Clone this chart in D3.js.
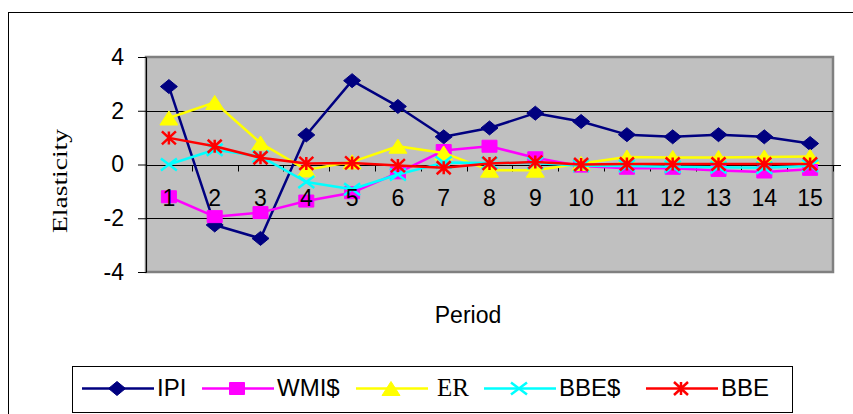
<!DOCTYPE html>
<html>
<head>
<meta charset="utf-8">
<script src="https://cdn.jsdelivr.net/npm/d3@7"></script>
<style>
  html, body { margin: 0; padding: 0; background: #fff; }
  svg { display: block; }
</style>
</head>
<body>
<svg id="chart" width="853" height="414"></svg>
<script>
// Periods on the x axis
const periods = [1, 2, 3, 4, 5, 6, 7, 8, 9, 10, 11, 12, 13, 14, 15];

// Impulse-response elasticities per series
const ipi  = [2.90, -2.25, -2.75, 1.10, 3.12, 2.16, 1.03, 1.36, 1.91, 1.60, 1.11, 1.03, 1.11, 1.03, 0.78];
const wmi  = [-1.20, -1.94, -1.79, -1.36, -1.05, -0.31, 0.52, 0.68, 0.25, -0.06, -0.14, -0.14, -0.22, -0.28, -0.18];
const er   = [1.73, 2.31, 0.80, -0.20, 0.10, 0.68, 0.43, -0.21, -0.21, 0.04, 0.28, 0.26, 0.26, 0.28, 0.30];
const bbeD = [0.00, 0.55, 0.30, -0.65, -0.92, -0.37, 0.07, 0.06, 0.06, -0.05, -0.06, -0.08, -0.10, -0.12, -0.05];
const bbe  = [0.99, 0.68, 0.25, 0.04, 0.06, -0.04, -0.12, 0.04, 0.09, 0.00, 0.02, 0.02, 0.02, 0.02, 0.02];

const yTicks = [-4, -2, 0, 2, 4];
const seriesNames = ["IPI", "WMI$", "ER", "BBE$", "BBE"];

const series = [
  { name: seriesNames[0], values: ipi,  color: "#000080", marker: "diamond" },
  { name: seriesNames[1], values: wmi,  color: "#FF00FF", marker: "square" },
  { name: seriesNames[2], values: er,   color: "#FFFF00", marker: "triangle", serif: true },
  { name: seriesNames[3], values: bbeD, color: "#00FFFF", marker: "cross" },
  { name: seriesNames[4], values: bbe,  color: "#FF0000", marker: "star" }
];

const svg = d3.select("#chart");
const plot = { left: 146, right: 833, top: 57, bottom: 272 };

const x = d3.scaleBand().domain(periods).range([plot.left, plot.right]);
const y = d3.scaleLinear().domain([-4, 4]).range([plot.bottom, plot.top]);

// Outer chart frame
svg.append("rect")
  .attr("x", 8.5).attr("y", 12.5).attr("width", 900).attr("height", 500)
  .attr("fill", "#fff").attr("stroke", "#000").attr("stroke-width", 1);

// Plot background
svg.append("rect")
  .attr("x", plot.left).attr("y", plot.top)
  .attr("width", plot.right - plot.left).attr("height", plot.bottom - plot.top)
  .attr("fill", "#C0C0C0").attr("stroke", "#808080").attr("stroke-width", 2.5);

// Horizontal gridlines
svg.append("g").selectAll("line").data(yTicks.filter(d => d !== 4 && d !== -4)).join("line")
  .attr("x1", plot.left).attr("x2", plot.right)
  .attr("y1", d => Math.round(y(d)) + 0.5).attr("y2", d => Math.round(y(d)) + 0.5)
  .attr("stroke", "#000").attr("stroke-width", 1);

// Y axis (plain hyphen for negatives)
const yAxis = d3.axisLeft(y).tickValues(yTicks).tickSize(8).tickPadding(14).tickFormat(d => String(d));
const gy = svg.append("g").attr("transform", `translate(${plot.left},0)`).call(yAxis);
gy.select(".domain").attr("stroke", "#000");
gy.selectAll(".tick line").attr("stroke", "#000");
gy.selectAll(".tick text")
  .attr("font-family", "Arial, 'Liberation Sans', sans-serif")
  .attr("font-size", 23).attr("fill", "#000");

// X axis through zero, with ticks between categories
const zeroY = Math.round(y(0)) + 0.5;
svg.append("line")
  .attr("x1", plot.left).attr("x2", plot.right + 8)
  .attr("y1", zeroY).attr("y2", zeroY)
  .attr("stroke", "#000").attr("stroke-width", 1);
const bounds = periods.map(p => x(p)).concat([plot.right]);
svg.append("g").selectAll("line").data(bounds).join("line")
  .attr("x1", d => Math.round(d) + 0.5).attr("x2", d => Math.round(d) + 0.5)
  .attr("y1", zeroY).attr("y2", zeroY + 6)
  .attr("stroke", "#000").attr("stroke-width", 1);

// Marker shapes
function markerPath(type, w, h) {
  const a = w / 2, b = h / 2;
  switch (type) {
    case "diamond": return `M0,${-b}L${a},0L0,${b}L${-a},0Z`;
    case "square": return `M${-a},${-b}H${a}V${b}H${-a}Z`;
    case "triangle": return `M0,${-b}L${a},${b}L${-a},${b}Z`;
    case "cross": return `M${-a},${-b}L${a},${b}M${a},${-b}L${-a},${b}`;
    case "star": return `M${-a},${-b}L${a},${b}M${a},${-b}L${-a},${b}M0,${-b}V${b}`;
  }
}
const markerSize = {
  diamond: [17, 14], square: [15, 12], triangle: [18, 14], cross: [16, 12], star: [14, 13]
};
function drawMarker(g, type, color) {
  const [w, h] = markerSize[type];
  const filled = type === "diamond" || type === "square" || type === "triangle";
  g.append("path")
    .attr("d", markerPath(type, w, h))
    .attr("fill", filled ? color : "none")
    .attr("stroke", color)
    .attr("stroke-width", filled ? 1 : 2.5);
}

const cx = d => x(d) + x.bandwidth() / 2;
const line = d3.line().x((v, i) => cx(periods[i])).y(v => y(v));

const gSeries = svg.append("g");
series.forEach(s => {
  const g = gSeries.append("g");
  g.append("path")
    .attr("d", line(s.values))
    .attr("fill", "none")
    .attr("stroke", s.color)
    .attr("stroke-width", 2.5)
    .attr("stroke-linejoin", "round");
  s.values.forEach((v, i) => {
    const m = g.append("g").attr("transform", `translate(${cx(periods[i])},${y(v)})`);
    drawMarker(m, s.marker, s.color);
  });
});

// Category labels sit above the series
svg.append("g").selectAll("text").data(periods).join("text")
  .attr("x", d => x(d) + x.bandwidth() / 2)
  .attr("y", zeroY + 40)
  .attr("text-anchor", "middle")
  .attr("font-family", "Arial, 'Liberation Sans', sans-serif")
  .attr("font-size", 23).attr("fill", "#000")
  .text(d => d);

// Axis titles
svg.append("text")
  .attr("transform", "translate(67,181) rotate(-90)")
  .attr("text-anchor", "middle")
  .attr("font-family", "'Times New Roman', 'Liberation Serif', serif")
  .attr("font-size", 22)
  .attr("textLength", 104).attr("lengthAdjust", "spacingAndGlyphs")
  .attr("fill", "#000")
  .text("Elasticity");

svg.append("text")
  .attr("x", 468).attr("y", 323)
  .attr("text-anchor", "middle")
  .attr("font-family", "Arial, 'Liberation Sans', sans-serif")
  .attr("font-size", 23).attr("fill", "#000")
  .text("Period");

// Legend
svg.append("rect")
  .attr("x", 72.5).attr("y", 366.5).attr("width", 720).attr("height", 46)
  .attr("fill", "#fff").attr("stroke", "#000").attr("stroke-width", 1);

const legendX = [82, 202, 356, 484, 646];
const legendY = 388.5;
series.forEach((s, i) => {
  const g = svg.append("g").attr("transform", `translate(${legendX[i]},0)`);
  g.append("line")
    .attr("x1", 0).attr("x2", 72).attr("y1", legendY).attr("y2", legendY)
    .attr("stroke", s.color).attr("stroke-width", 2.5);
  const m = g.append("g").attr("transform", `translate(35,${legendY})`);
  drawMarker(m, s.marker, s.color);
  g.append("text")
    .attr("x", s.serif ? 81 : 75).attr("y", 396)
    .attr("font-family", s.serif ? "'Times New Roman', 'Liberation Serif', serif" : "Arial, 'Liberation Sans', sans-serif")
    .attr("font-size", s.serif ? 25 : 24).attr("fill", "#000")
    .text(s.name);
});
</script>
</body>
</html>
